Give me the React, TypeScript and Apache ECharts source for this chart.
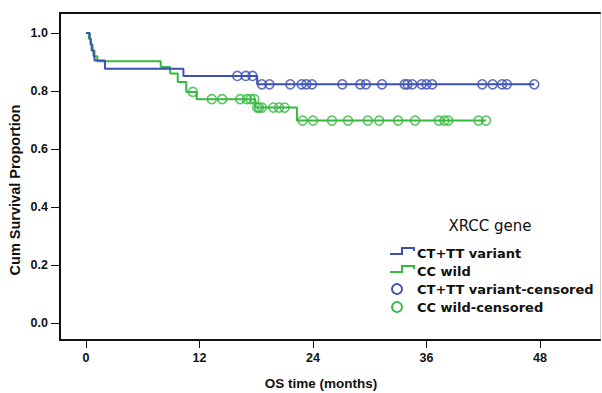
import React, { useEffect, useRef } from "react";
import * as echarts from "echarts";

// Kaplan-Meier step points (time in months, cumulative survival)
const variantTimes = [0, 0.4, 0.5, 0.6, 0.8, 0.9, 2.0, 10.3, 18.1, 47.4];
const variantSurv = [1.0, 0.98, 0.96, 0.94, 0.92, 0.905, 0.877, 0.852, 0.823, 0.823];
const variantCensored = [
  16.0, 16.9, 17.6, 18.6, 19.4, 21.6, 22.8, 23.3, 23.9, 27.1, 29.0, 29.6, 31.3,
  33.7, 34.0, 34.5, 35.5, 36.0, 36.6, 41.9, 43.0, 44.0, 44.5, 47.4,
];

const wildTimes = [0, 0.3, 0.5, 0.7, 0.9, 1.2, 7.9, 8.9, 9.7, 10.6, 11.7, 17.9, 22.3, 42.3];
const wildSurv = [1.0, 0.98, 0.96, 0.94, 0.92, 0.903, 0.883, 0.86, 0.831, 0.797, 0.772, 0.743, 0.698, 0.698];
const wildCensored = [
  11.3, 13.3, 14.4, 16.3, 17.0, 17.4, 17.8, 18.1, 18.3, 18.6, 19.8, 20.4, 21.0,
  22.9, 24.0, 26.0, 27.7, 29.8, 31.0, 33.0, 34.8, 37.3, 37.9, 38.3, 41.5, 42.3,
];

const xTicks = [0, 12, 24, 36, 48];
const yTicks = [0, 0.2, 0.4, 0.6, 0.8, 1.0];

const seriesNames = ["CT+TT variant", "CC wild", "CT+TT variant-censored", "CC wild-censored"];
const legendTitle = "XRCC gene";
const xTitle = "OS time (months)";
const yTitle = "Cum Survival Proportion";

const BLUE = "#3d4fb0";
const GREEN = "#37b840";

function stepValue(times: number[], surv: number[], t: number): number {
  let v = surv[0];
  for (let i = 0; i < times.length; i++) {
    if (times[i] <= t) v = surv[i];
  }
  return v;
}

export default function App() {
  const ref = useRef<HTMLDivElement>(null);
  useEffect(() => {
    if (!ref.current) return;
    const chart = echarts.init(ref.current, null, { renderer: "svg" });
    const axisFont = { fontFamily: "Liberation Sans, Arial", fontWeight: "bold" as const, fontSize: 12.5, color: "#111" };
    const legFont = "DejaVu Sans";
    const lx = 390;
    chart.setOption({
      animation: false,
      backgroundColor: "#ffffff",
      grid: { left: 60, top: 13, right: 2, bottom: 53, containLabel: false },
      xAxis: [
        {
          type: "value",
          min: -2.75,
          max: 54.35,
          position: "bottom",
          splitLine: { show: false },
          axisLine: { show: true, onZero: false, lineStyle: { color: "#111", width: 2 } },
          axisTick: { show: true, customValues: xTicks, length: 8, lineStyle: { color: "#111", width: 1 } },
          axisLabel: { show: true, customValues: xTicks, margin: 11, ...axisFont },
        },
        {
          type: "value",
          min: -2.75,
          max: 54.35,
          position: "top",
          splitLine: { show: false },
          axisLine: { show: true, onZero: false, lineStyle: { color: "#111", width: 2 } },
          axisTick: { show: false },
          axisLabel: { show: false },
        },
      ],
      yAxis: [
        {
          type: "value",
          min: -0.0586,
          max: 1.069,
          position: "left",
          splitLine: { show: false },
          axisLine: { show: true, onZero: false, lineStyle: { color: "#111", width: 2 } },
          axisTick: { show: true, customValues: yTicks, length: 9, lineStyle: { color: "#111", width: 1 } },
          axisLabel: {
            show: true,
            customValues: yTicks,
            margin: 12,
            formatter: (v: number) => v.toFixed(1),
            ...axisFont,
          },
        },
        {
          type: "value",
          min: -0.0586,
          max: 1.069,
          position: "right",
          splitLine: { show: false },
          axisLine: { show: true, onZero: false, lineStyle: { color: "#d0d0d0", width: 1 } },
          axisTick: { show: false },
          axisLabel: { show: false },
        },
      ],
      series: [
        {
          name: seriesNames[0],
          type: "line",
          step: "end",
          data: variantTimes.map((t, i) => [t, variantSurv[i]]),
          showSymbol: false,
          lineStyle: { color: BLUE, width: 2 },
          itemStyle: { color: BLUE },
          z: 3,
        },
        {
          name: seriesNames[1],
          type: "line",
          step: "end",
          data: wildTimes.map((t, i) => [t, wildSurv[i]]),
          showSymbol: false,
          lineStyle: { color: GREEN, width: 2 },
          itemStyle: { color: GREEN },
          z: 2,
        },
        {
          name: seriesNames[2],
          type: "scatter",
          data: variantCensored.map((t) => [t, stepValue(variantTimes, variantSurv, t)]),
          symbol: "circle",
          symbolSize: 9,
          itemStyle: { color: "rgba(255,255,255,0)", borderColor: BLUE, borderWidth: 1.6 },
          z: 4,
        },
        {
          name: seriesNames[3],
          type: "scatter",
          data: wildCensored.map((t) => [t, stepValue(wildTimes, wildSurv, t)]),
          symbol: "circle",
          symbolSize: 9,
          itemStyle: { color: "rgba(255,255,255,0)", borderColor: GREEN, borderWidth: 1.6 },
          z: 4,
        },
      ],
      graphic: [
        {
          type: "text",
          x: 321,
          y: 383,
          style: {
            text: xTitle,
            fontFamily: "Liberation Sans, Arial",
            fontWeight: "bold",
            fontSize: 13.5,
            fill: "#111",
            textAlign: "center",
            textVerticalAlign: "middle",
          },
        },
        {
          type: "text",
          x: 15,
          y: 190,
          rotation: Math.PI / 2,
          style: {
            text: yTitle,
            fontFamily: "Liberation Sans, Arial",
            fontWeight: "bold",
            fontSize: 14.5,
            fill: "#111",
            textAlign: "center",
            textVerticalAlign: "middle",
          },
        },
        {
          type: "text",
          x: 490,
          y: 226,
          style: {
            text: legendTitle,
            fontFamily: legFont,
            fontSize: 15,
            fill: "#111",
            textAlign: "center",
            textVerticalAlign: "middle",
          },
        },
        {
          type: "polyline",
          shape: { points: [[lx, 254], [402, 254], [402, 248], [414, 248], [414, 251]] },
          style: { stroke: BLUE, lineWidth: 2, fill: null },
        },
        {
          type: "polyline",
          shape: { points: [[lx, 272], [402, 272], [402, 266], [414, 266], [414, 269]] },
          style: { stroke: GREEN, lineWidth: 2, fill: null },
        },
        {
          type: "circle",
          shape: { cx: 397, cy: 289, r: 5 },
          style: { stroke: BLUE, lineWidth: 1.8, fill: null },
        },
        {
          type: "circle",
          shape: { cx: 397, cy: 307, r: 5 },
          style: { stroke: GREEN, lineWidth: 1.8, fill: null },
        },
        ...seriesNames.map((name, i) => ({
          type: "text",
          x: 417,
          y: [253, 271, 289, 307][i],
          style: {
            text: name,
            fontFamily: legFont,
            fontWeight: "bold",
            fontSize: 13,
            fill: "#111",
            textAlign: "left",
            textVerticalAlign: "middle",
          },
        })),
      ],
    });
    return () => chart.dispose();
  }, []);
  return (
    <div
      ref={ref}
      style={{ position: "fixed", left: 0, top: 0, width: 602, height: 393, background: "#fff" }}
    />
  );
}
